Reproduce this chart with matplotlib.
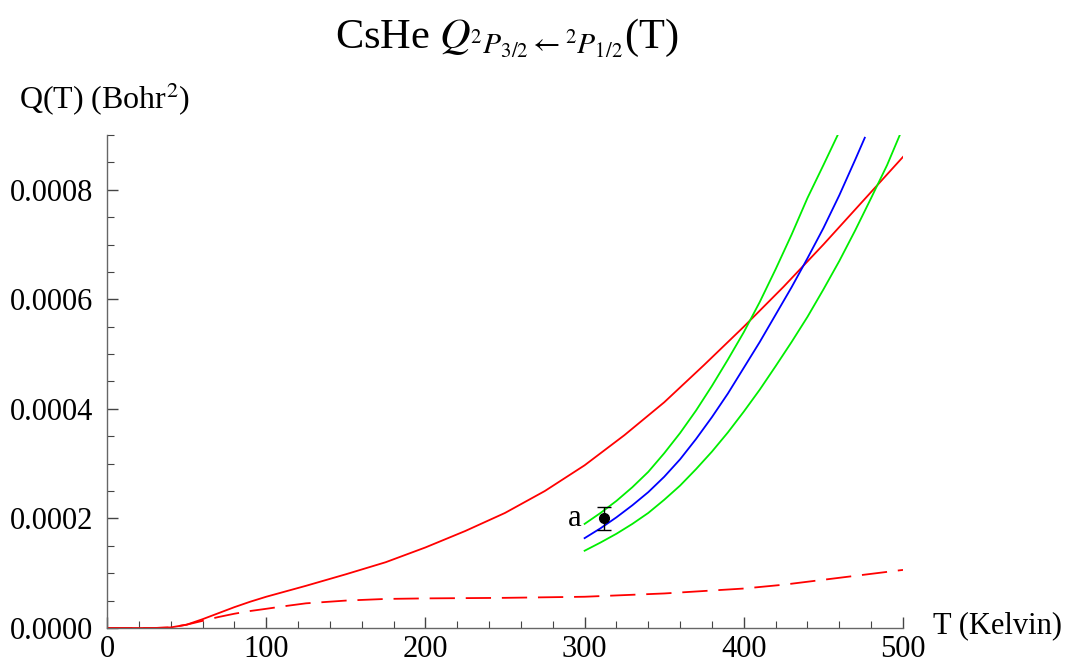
import numpy as np
import matplotlib
matplotlib.use("Agg")
import matplotlib.pyplot as plt
from matplotlib.ticker import MultipleLocator, FormatStrFormatter

plt.rcParams['font.family'] = ['Liberation Serif', 'DejaVu Serif']
plt.rcParams['mathtext.fontset'] = 'stix'

# theory, solid red (Q in units of 1e-4 Bohr^2)
t_red = [0, 30, 40, 50, 60, 70, 80, 90, 100, 110, 125, 150, 175, 200, 225,
         250, 275, 300, 325, 350, 375, 400, 425, 450, 475, 500]
q_red = [0, 0, 0.01, 0.06, 0.16, 0.27, 0.38, 0.48, 0.57, 0.65, 0.77, 0.98,
         1.2, 1.47, 1.77, 2.1, 2.5, 2.97, 3.52, 4.12, 4.8, 5.5, 6.23, 7.0,
         7.8, 8.6]

# dashed red
t_dash = [0, 30, 40, 50, 60, 70, 80, 90, 100, 112, 125, 150, 175, 200, 250,
          300, 350, 400, 425, 450, 475, 500]
q_dash = [0, 0, 0.01, 0.06, 0.13, 0.2, 0.26, 0.31, 0.35, 0.4, 0.45, 0.5,
          0.53, 0.54, 0.55, 0.57, 0.63, 0.72, 0.79, 0.88, 0.97, 1.06]

# fit (blue) and its bounds (green)
t_blue = [300, 310, 320, 330, 340, 350, 360, 370, 380, 390, 400, 410, 420,
          430, 440, 450, 460, 470, 476]
q_blue = [1.64, 1.82, 2.02, 2.24, 2.48, 2.76, 3.08, 3.45, 3.85, 4.28, 4.75,
          5.22, 5.72, 6.22, 6.75, 7.3, 7.9, 8.55, 8.95]

t_up = [300, 310, 320, 330, 340, 350, 360, 370, 380, 390, 400, 410, 420,
        430, 440, 450, 459]
q_up = [1.9, 2.1, 2.32, 2.57, 2.85, 3.19, 3.56, 3.97, 4.42, 4.9, 5.4, 5.95,
        6.55, 7.18, 7.85, 8.45, 9.0]

t_lo = [300, 310, 320, 330, 340, 350, 360, 370, 380, 390, 400, 410, 420,
        430, 440, 450, 460, 470, 480, 490, 498]
q_lo = [1.41, 1.56, 1.72, 1.9, 2.1, 2.34, 2.6, 2.9, 3.22, 3.57, 3.95, 4.35,
        4.78, 5.22, 5.68, 6.18, 6.7, 7.26, 7.85, 8.45, 9.0]

# measured point
pt_t = [312]
pt_q = [2.0]
pt_err = [0.21]
scale = 1e-4

fig = plt.figure(figsize=(10.67, 6.62), dpi=100)
ax = fig.add_axes([0.1003, 0.0514, 0.746, 0.7447])

ax.plot(t_red, np.array(q_red) * scale, color='red', lw=1.3)
ax.plot(t_dash, np.array(q_dash) * scale, color='red', lw=1.3, dashes=(14, 6))
ax.plot(t_up, np.array(q_up) * scale, color='#00ee00', lw=1.3)
ax.plot(t_lo, np.array(q_lo) * scale, color='#00ee00', lw=1.3)
ax.plot(t_blue, np.array(q_blue) * scale, color='blue', lw=1.3)
ax.errorbar(pt_t, np.array(pt_q) * scale, yerr=np.array(pt_err) * scale,
            fmt='o', color='black', ms=7, capsize=5, elinewidth=1, capthick=1)
ax.text(298, 2.0e-4, 'a', fontsize=22, ha='right', va='center')

ax.set_xlim(0, 500)
ax.set_ylim(0, 0.0009)
for s in ['top', 'right']:
    ax.spines[s].set_visible(False)
for s in ['left', 'bottom']:
    ax.spines[s].set_color('#666666')
    ax.spines[s].set_linewidth(1)

ax.xaxis.set_major_locator(MultipleLocator(100))
ax.xaxis.set_minor_locator(MultipleLocator(20))
ax.yaxis.set_major_locator(MultipleLocator(0.0002))
ax.yaxis.set_minor_locator(MultipleLocator(0.00005))
ax.yaxis.set_major_formatter(FormatStrFormatter('%.4f'))
ax.tick_params(which='both', direction='in', color='#444444', labelsize=22)
ax.tick_params(which='major', length=8, width=1)
ax.tick_params(which='minor', length=5, width=0.8)
ax.tick_params(axis='x', pad=5)
ax.tick_params(axis='y', pad=10)

fig.text(0.475, 0.942, r"CsHe $Q_{{}^{2}P_{3/2}\leftarrow{}^{2}P_{1/2}}$(T)",
         fontsize=30.5, ha='center', va='center')
fig.text(0.018, 0.85, r"Q(T) (Bohr$^2$)", fontsize=23, ha='left', va='center')
fig.text(0.874, 0.055, "T (Kelvin)", fontsize=22, ha='left', va='center')

fig.savefig("out.png", dpi=100)
